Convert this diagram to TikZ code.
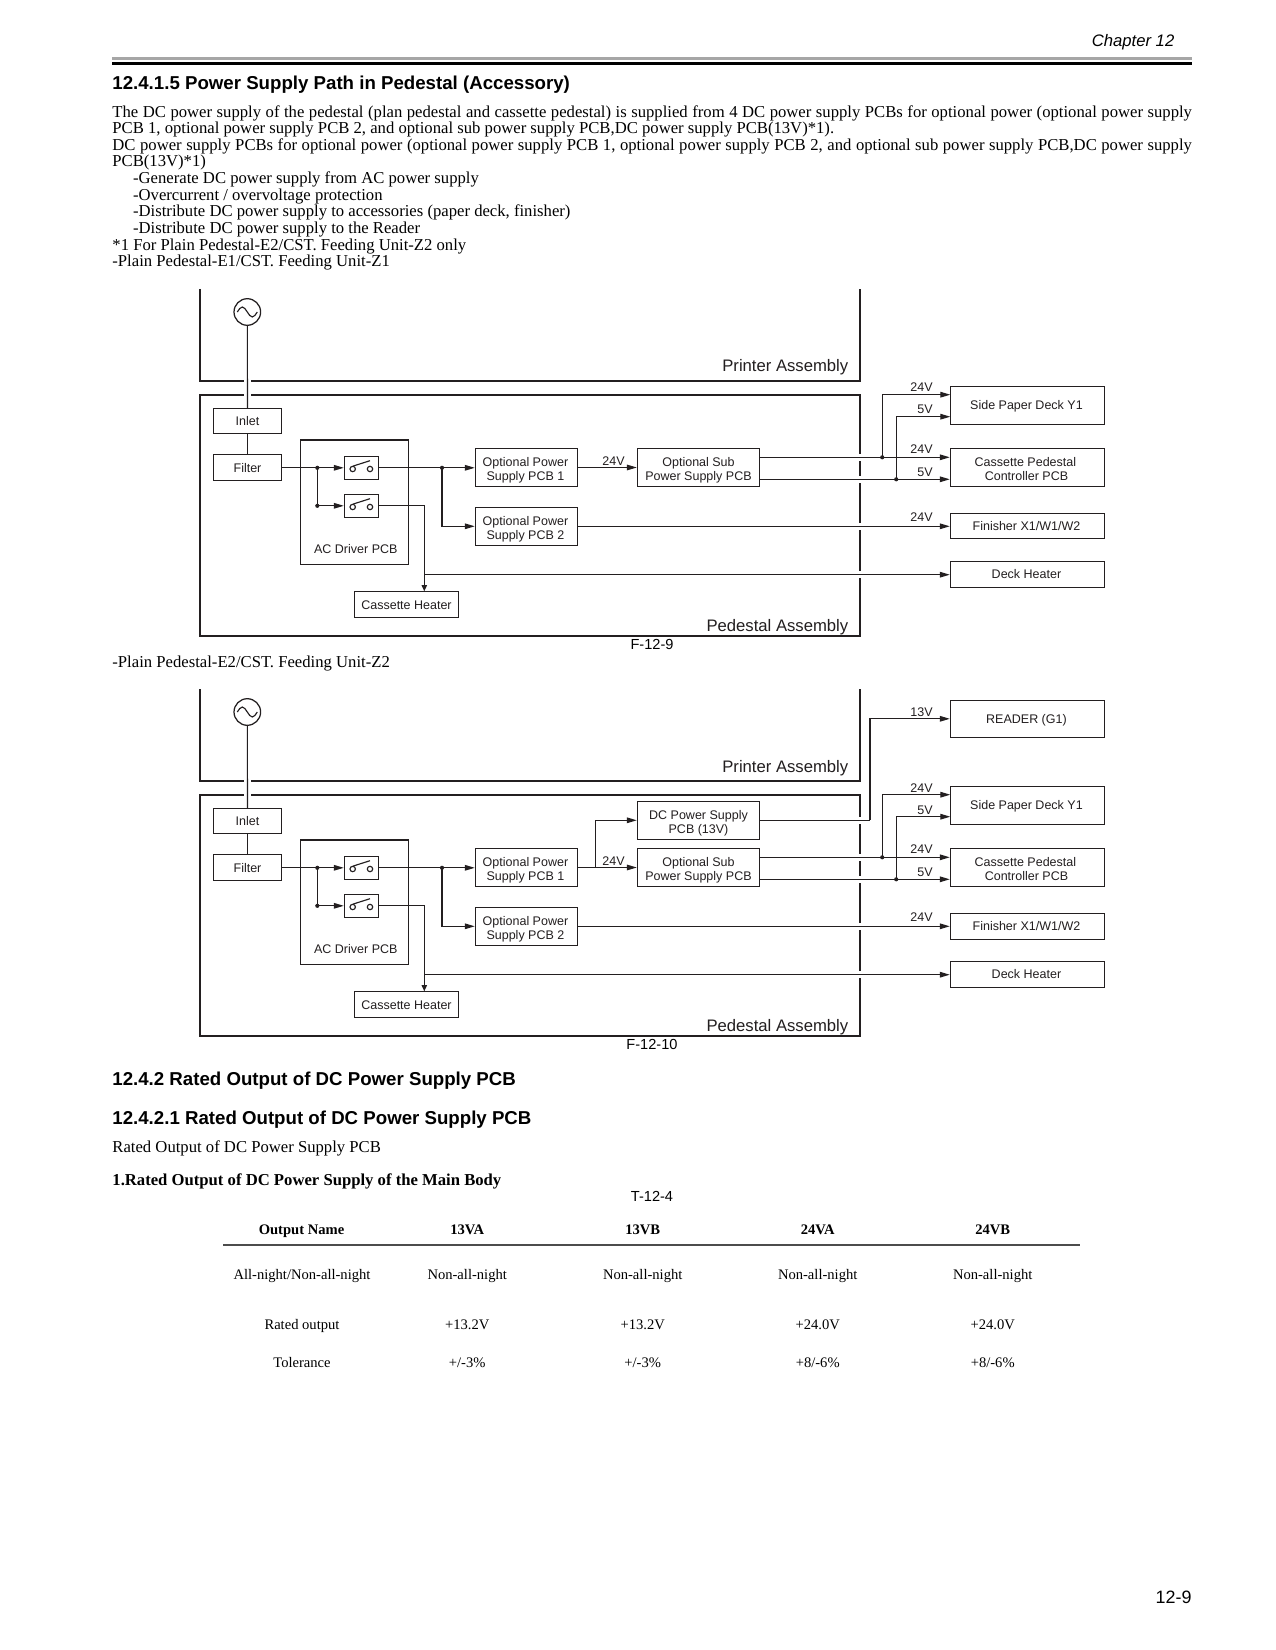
\documentclass[tikz,border=0pt]{standalone}
\usepackage{fontspec}
\setmainfont{Liberation Serif}
\setsansfont{Liberation Sans}
\usetikzlibrary{arrows.meta,calc}
\definecolor{ink}{HTML}{231F20}
\newcommand{\nudge}{\hspace*{1pt}}
\newcommand{\tl}{\rule{0pt}{7.4pt}}
\tikzset{
  bx/.style n args={2}{draw=ink,line width=0.5pt,inner sep=0pt,text=ink,align=center,
     minimum width=#1*0.48pt,minimum height=#2*0.48pt,font=\sffamily\fontsize{6}{7}\selectfont,
     execute at begin node={\rule{0pt}{6pt}},execute at end node={\rule[-1.6pt]{0pt}{0pt}}},
  lbl/.style={anchor=base,inner sep=0pt,text=ink,font=\sffamily\fontsize{6}{7}\selectfont},
  frm/.style={draw=ink,line width=0.85pt},
  biglbl/.style={anchor=base east,inner sep=0pt,text=ink,font=\sffamily\fontsize{8}{9}\selectfont},
  wire/.style={draw=ink,line width=0.55pt},
  arr/.style={wire,-{Triangle[length=4.8pt,width=2.7pt]}},
  sarr/.style={wire,-{Triangle[length=3pt,width=2.6pt]}},
  dot/.style={circle,fill=ink,inner sep=0pt,minimum size=2pt},
  gap/.style={fill=white,draw=none},
  body/.style={anchor=base west,inner sep=0pt,text=black,font=\rmfamily\fontsize{8}{9}\selectfont},
  head/.style={anchor=base west,inner sep=0pt,text=black,font=\sffamily\bfseries\fontsize{8.96}{10}\selectfont},
  figcap/.style={anchor=base,inner sep=0pt,text=black,font=\sffamily\fontsize{7}{8}\selectfont},
  tbl/.style={anchor=base,inner sep=0pt,text=black,font=\rmfamily\fontsize{7}{8}\selectfont},
  tblh/.style={anchor=base,inner sep=0pt,text=black,font=\rmfamily\bfseries\fontsize{7}{8}\selectfont},
}
\newcommand{\myswitch}[1]{%
  \draw[wire] (352.7,#1+1) circle (2.7);
  \draw[wire] (370,#1+1) circle (2.7);
  \draw[wire] (353.3,#1-2) -- (370,#1-7.3);
}
\newcommand{\commonfig}[1]{%
  % frames
  \draw[frm] (200,289) -- (200,381) -- (860,381) -- (860,289);
  \draw[frm] (200,395) rectangle (860,636);
  \fill[gap] (244,378) rectangle (250.7,398);
  \foreach \gy in {457.3,479.3,526.3,574.7} {\fill[gap] (857,\gy-3.3) rectangle (863,\gy+3.3);}
  \node[biglbl] (printer) at (848.7,372) {Printer Assembly};
  \node[biglbl] (pedestal) at (848.7,631) {Pedestal Assembly};
  % boxes
  \node[circle,draw=ink,line width=0.6pt,inner sep=0pt,minimum size=26.6*0.48pt] (ac) at (247.3,312) {};
  \draw[wire] (237.3,312) sin (242.3,307) cos (247.3,312) sin (252.3,317) cos (257.3,312);
  \node[bx={68.4}{25}] (inlet) at (247.5,420.8) {Inlet};
  \node[bx={68.4}{26}] (filter) at (247.5,467.8) {Filter};
  \node[bx={108}{124.3},line width=0.65pt] (acd) at (354.3,502.2) {};
  \node[lbl] (acdl) at (355.8,553.3) {AC Driver PCB};
  \node[bx={34.4}{23}] (swa) at (361.5,467.8) {};
  \node[bx={34.4}{23}] (swb) at (361.5,505.8) {};
  \myswitch{468}
  \myswitch{506}
  \node[bx={102.4}{38.4}] (op1) at (526.5,467.5) {\tl Optional Power\nudge\\Supply PCB 1\nudge};
  \node[bx={102.4}{38}] (op2) at (526.5,526.3) {\tl Optional Power\nudge\\Supply PCB 2\nudge};
  \node[bx={122.4}{38.4}] (sub) at (698.5,467.5) {\tl Optional Sub\\Power Supply PCB};
  \node[bx={154.4}{38}] (side) at (1027.5,405.3) {Side Paper Deck Y1\nudge};
  \node[bx={154.4}{38.4}] (cas) at (1027.5,467.5) {\tl Cassette Pedestal\nudge\nudge\\Controller PCB\nudge};
  \node[bx={154.4}{#1}] (fin) at (1027.5,513.3+#1/2) {Finisher X1/W1/W2\nudge};
  \node[bx={154.4}{26}] (deck) at (1027.5,574.3) {Deck Heater\nudge};
  \node[bx={104.4}{26}] (heat) at (406.5,604.8) {Cassette Heater};
  % wires
  \draw[wire] (ac) -- (inlet);
  \draw[wire] (inlet) -- (filter);
  \coordinate (j1) at (317.3,467.8);
  \coordinate (j2) at (442,467.8);
  \coordinate (j3) at (424.3,574.7);
  \coordinate (a24) at (759.7,457.3);
  \coordinate (a5) at (759.7,479.3);
  \coordinate (j24) at (882.2,457.3);
  \coordinate (j5) at (896.2,479.3);
  \coordinate (s24) at (950.3,394.7);
  \coordinate (s5) at (950.3,416.7);
  \draw[arr] (filter.east |- swa.west) -- (swa.west);
  \draw[arr] (j1) |- (swb.west);
  \node[dot] (d1) at (j1) {};
  \node[dot] (d1b) at (j1 |- swb.west) {};
  \draw[arr] (swa.east) -- (j2) -- (j2 -| op1.west);
  \draw[arr] (j2) |- (op2.west);
  \node[dot] (d2) at (j2) {};
  \draw[arr] (op1.east) -- (sub.west);
  \draw[arr] (op2.east) -- (op2.east -| fin.west);
  \draw[sarr] (swb.east) -| (j3 |- heat.north);
  \draw[arr] (j3) -- (j3 -| deck.west);
  \draw[arr] (a24) -- (a24 -| cas.west);
  \draw[arr] (a5) -- (a5 -| cas.west);
  \draw[arr] (j24) |- (s24);
  \draw[arr] (j5) |- (s5);
  \node[dot] (d3) at (j24) {};
  \node[dot] (d4) at (j5) {};
  % voltages
  \node[lbl] (v0) at (613.5,465) {24V};
  \node[lbl,anchor=base east] (v1) at (933,392) {24V};
  \node[lbl,anchor=base east] (v2) at (933,414) {5V};
  \node[lbl,anchor=base east] (v3) at (933,453.8) {24V};
  \node[lbl,anchor=base east] (v4) at (933,476.5) {5V};
  \node[lbl,anchor=base east] (v5) at (933,521.5) {24V};
}
\begin{document}
\begin{tikzpicture}[x=0.48pt,y=-0.48pt]
\useasboundingbox (0,0) rectangle (1275,1650);
\fill[white] (0,0) rectangle (1275,1650);
% page header
\node[anchor=base east,inner sep=0pt,font=\sffamily\itshape\fontsize{8}{9}\selectfont] (chap) at (1174.7,47) {Chapter 12};
\draw[line width=1.25pt,color=black!35] (112,58.3) -- (1191.7,58.3);
\draw[line width=1.6pt,color=black] (112,63.7) -- (1191.7,63.7);
\node[head] (h1) at (112,89.3) {12.4.1.5 Power Supply Path in Pedestal (Accessory)};
\node[body] (l1) at (112,117.7) {\makebox[518.2pt][s]{The DC power supply of the pedestal (plan pedestal and cassette pedestal) is supplied from 4 DC power supply PCBs for optional power (optional power supply}};
\node[body] (l2) at (112,134) {PCB 1, optional power supply PCB 2, and optional sub power supply PCB,DC power supply PCB(13V)*1).};
\node[body] (l3) at (112,150.7) {\makebox[518.2pt][s]{DC power supply PCBs for optional power (optional power supply PCB 1, optional power supply PCB 2, and optional sub power supply PCB,DC power supply}};
\node[body] (l4) at (112,166.7) {PCB(13V)*1)};
\node[body] (l5) at (132.7,183.3) {-Generate DC power supply from AC power supply};
\node[body] (l6) at (132.7,200.3) {-Overcurrent / overvoltage protection};
\node[body] (l7) at (132.7,216.7) {-Distribute DC power supply to accessories (paper deck, finisher)};
\node[body] (l8) at (132.7,234) {-Distribute DC power supply to the Reader};
\node[body] (l9) at (112,251) {*1 For Plain Pedestal-E2/CST. Feeding Unit-Z2 only};
\node[body] (l10) at (112,267) {-Plain Pedestal-E1/CST. Feeding Unit-Z1};
% figure 1
\begin{scope}[name prefix=fa-]
  \commonfig{25}
\end{scope}
\node[figcap] (f9) at (652,649.8) {F-12-9};
\node[body] (l11) at (112,667.5) {-Plain Pedestal-E2/CST. Feeding Unit-Z2};
% figure 2
\begin{scope}[name prefix=fb-,shift={(0,400)}]
  \commonfig{26}
  \fill[gap] (857,417) rectangle (863,423.6);
  \node[bx={122.4}{38}] (dc) at (698.5,420.3) {\tl DC Power Supply\\PCB (13V)};
  \node[bx={154.4}{37}] (read) at (1027.5,318.8) {READER (G1)\nudge};
  \coordinate (j6) at (595.2,467.5);
  \coordinate (k1) at (870,420.3);
  \draw[arr] (j6) |- (dc.west);
  \draw[wire] (dc.east) -- (k1);
  \draw[arr] (k1) |- (read.west);
  \node[lbl,anchor=base east] (v6) at (933,316.5) {13V};
\end{scope}
\node[figcap] (f10) at (652,1049.8) {F-12-10};
% lower text
\node[head] (h2) at (112,1085) {12.4.2 Rated Output of DC Power Supply PCB};
\node[head] (h3) at (112,1124) {12.4.2.1 Rated Output of DC Power Supply PCB};
\node[body] (l12) at (112,1152.7) {Rated Output of DC Power Supply PCB};
\node[body,font=\rmfamily\bfseries\fontsize{8}{9}\selectfont] (l13) at (112,1185) {1.Rated Output of DC Power Supply of the Main Body};
\node[figcap] (t4) at (652,1201) {T-12-4};
% table
\draw[line width=0.6pt,color=black!70] (223,1245) -- (1080.3,1245);
\node[tblh] (c00) at (301.5,1234.3) {Output Name};
\node[tblh] (c01) at (467.2,1234.3) {13VA};
\node[tblh] (c02) at (642.7,1234.3) {13VB};
\node[tblh] (c03) at (817.7,1234.3) {24VA};
\node[tblh] (c04) at (992.7,1234.3) {24VB};
\node[tbl] (c10) at (302,1279.3) {All-night/Non-all-night};
\node[tbl] (c11) at (467.2,1279.3) {Non-all-night};
\node[tbl] (c12) at (642.7,1279.3) {Non-all-night};
\node[tbl] (c13) at (817.7,1279.3) {Non-all-night};
\node[tbl] (c14) at (992.7,1279.3) {Non-all-night};
\node[tbl] (c20) at (302,1329.3) {Rated output};
\node[tbl] (c21) at (467.2,1329.3) {+13.2V};
\node[tbl] (c22) at (642.7,1329.3) {+13.2V};
\node[tbl] (c23) at (817.7,1329.3) {+24.0V};
\node[tbl] (c24) at (992.7,1329.3) {+24.0V};
\node[tbl] (c30) at (302,1367.3) {Tolerance};
\node[tbl] (c31) at (467.2,1367.3) {+/-3\%};
\node[tbl] (c32) at (642.7,1367.3) {+/-3\%};
\node[tbl] (c33) at (817.7,1367.3) {+8/-6\%};
\node[tbl] (c34) at (992.7,1367.3) {+8/-6\%};
\node[anchor=base east,inner sep=0pt,font=\sffamily\fontsize{8.6}{10}\selectfont] (pg) at (1192,1603) {12-9};
\end{tikzpicture}
\end{document}
